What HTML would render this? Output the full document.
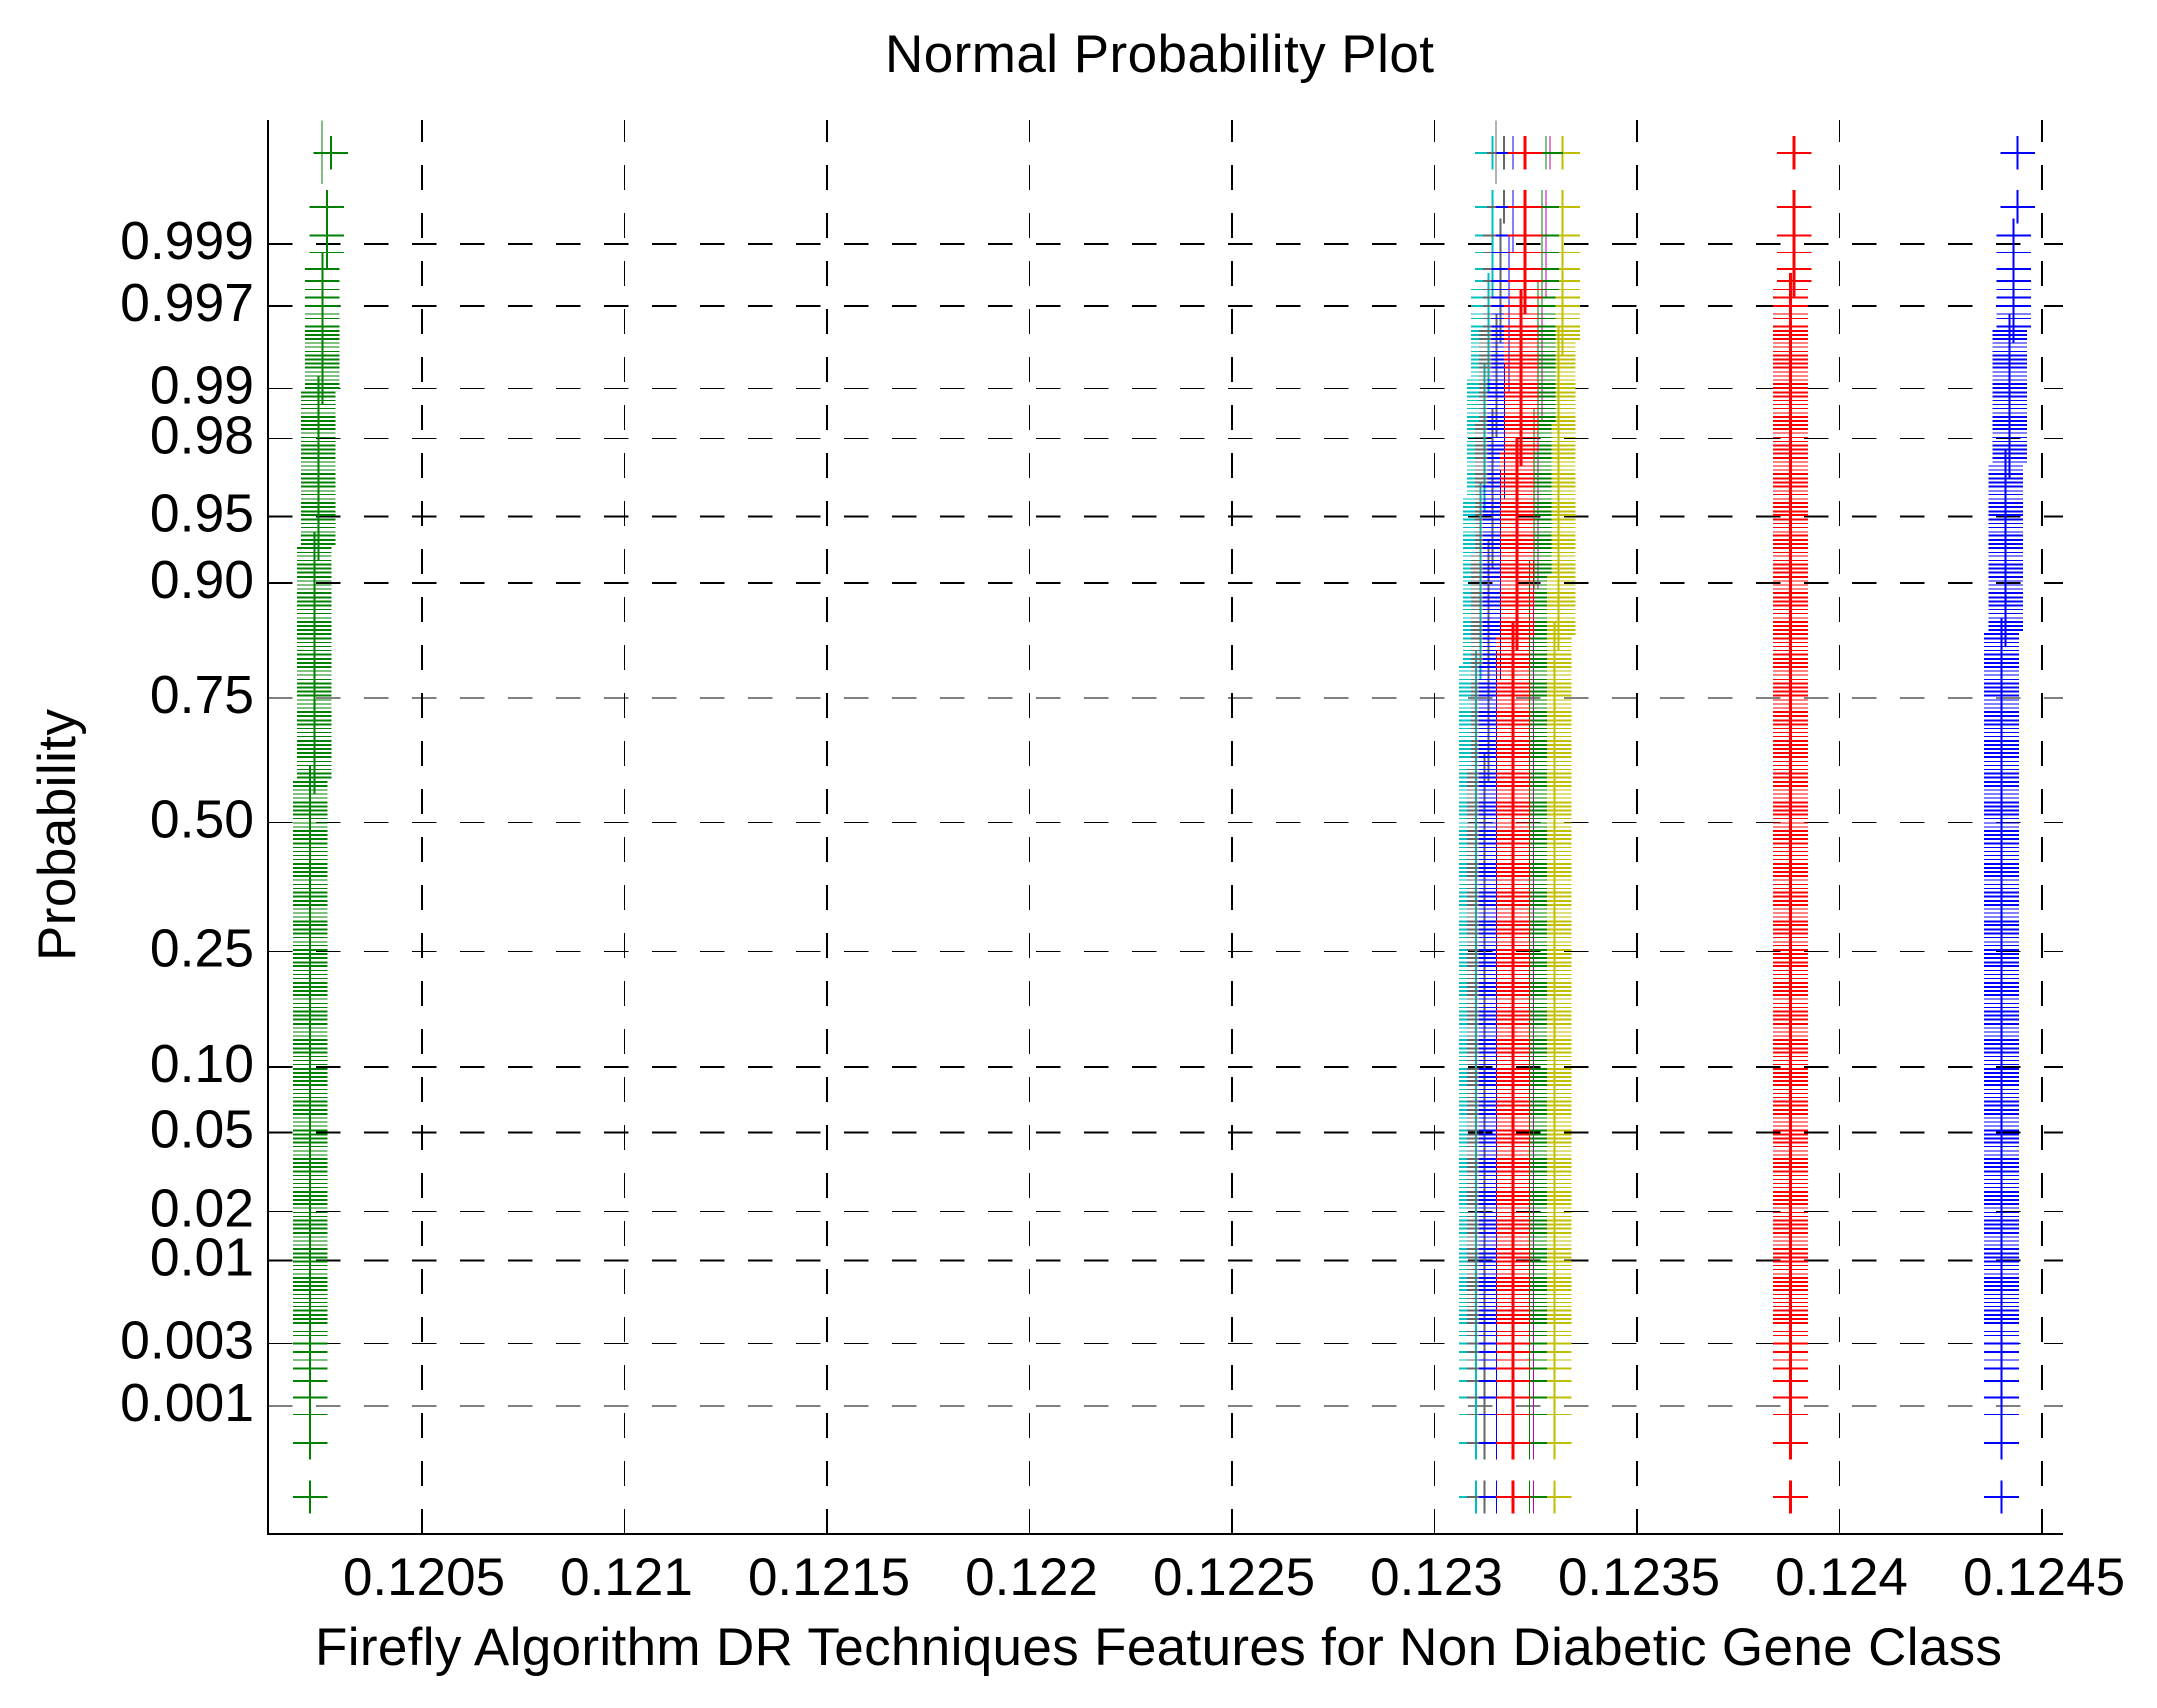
<!DOCTYPE html>
<html lang="en">
<head>
<meta charset="utf-8">
<title>Normal Probability Plot</title>
<style>
  html, body { margin: 0; padding: 0; background: #fff; }
  svg { display: block; }
  text { font-family: "Liberation Sans", Arial, sans-serif; fill: #000; }
</style>
</head>
<body>
<svg id="chart" xmlns="http://www.w3.org/2000/svg" width="2157" height="1708" viewBox="0 0 2157 1708">
  <rect x="0" y="0" width="2157" height="1708" fill="#fff"/>
  <g id="grid" shape-rendering="crispEdges"></g>
  <g id="marks" shape-rendering="crispEdges"></g>
  <g id="axes" shape-rendering="crispEdges">
    <line x1="268" y1="120" x2="268" y2="1534" stroke="#000" stroke-width="2"/>
    <line x1="267" y1="1534" x2="2063" y2="1534" stroke="#000" stroke-width="2"/>
  </g>
  <g id="x-tick-labels"></g>
  <g id="y-tick-labels"></g>
  <text x="885" y="72" font-size="53" textLength="549" lengthAdjust="spacing">Normal Probability Plot</text>
  <text x="315" y="1665" font-size="53" textLength="1687" lengthAdjust="spacing">Firefly Algorithm DR Techniques Features for Non Diabetic Gene Class</text>
  <text transform="translate(75 961) rotate(-90)" x="0" y="0" font-size="53" textLength="252" lengthAdjust="spacing">Probability</text>
</svg>
<script>
// ---- axis ticks ----
const xTickValues = [0.1205, 0.121, 0.1215, 0.122, 0.1225, 0.123, 0.1235, 0.124, 0.1245];
const xTickLabels = ['0.1205', '0.121', '0.1215', '0.122', '0.1225', '0.123', '0.1235', '0.124', '0.1245'];
const yTickLabels = ['0.999', '0.997', '0.99', '0.98', '0.95', '0.90', '0.75', '0.50', '0.25', '0.10', '0.05', '0.02', '0.01', '0.003', '0.001'];
const yTickQuantiles = [3.09, 2.76, 2.32, 2.056, 1.639, 1.287, 0.674, 0.012, -0.673, -1.287, -1.637, -2.056, -2.318, -2.76, -3.09];

// ---- normal-quantile height of each plotted row, read top to bottom ----
const upperRowQuantiles = [3.575,3.287,3.136,3.045,2.957,2.893,2.847,2.804,2.760,2.716,2.694,2.650,2.628,2.606,2.584,2.563,2.541,2.519,2.497,2.475,2.454,2.432,2.410,2.388,2.366,2.345,2.323,2.301,2.279,2.257,2.235,2.214,2.192,2.170,2.148,2.126,2.105,2.083,2.061,2.039,2.017,1.996,1.974,1.952,1.930,1.908,1.887,1.865,1.843,1.821,1.799,1.777,1.756,1.734,1.712,1.690,1.668,1.647,1.625,1.603,1.581,1.559,1.538,1.516,1.494,1.472,1.450,1.429,1.407,1.385,1.363,1.341,1.319,1.298,1.276,1.254,1.232,1.210,1.189,1.167,1.145,1.123,1.101,1.080,1.058,1.036,1.014,0.992,0.971,0.949,0.927,0.905,0.883,0.862,0.840,0.818,0.796,0.774,0.752,0.731,0.709,0.687,0.665,0.643,0.622,0.600,0.578,0.556,0.534,0.513,0.491,0.469,0.447,0.425,0.404,0.382,0.360,0.338,0.316,0.294,0.273,0.251,0.229,0.207,0.185,0.164,0.142,0.120,0.098,0.076,0.055,0.033,0.011];
const lowerRowQuantiles = [-0.011,-0.033,-0.055,-0.076,-0.098,-0.120,-0.142,-0.164,-0.185,-0.207,-0.229,-0.251,-0.273,-0.294,-0.316,-0.338,-0.360,-0.382,-0.404,-0.425,-0.447,-0.469,-0.491,-0.513,-0.534,-0.556,-0.578,-0.600,-0.622,-0.643,-0.665,-0.687,-0.709,-0.731,-0.752,-0.774,-0.796,-0.818,-0.840,-0.862,-0.883,-0.905,-0.927,-0.949,-0.971,-0.992,-1.014,-1.036,-1.058,-1.080,-1.101,-1.123,-1.145,-1.167,-1.189,-1.210,-1.232,-1.254,-1.276,-1.298,-1.319,-1.341,-1.363,-1.385,-1.407,-1.429,-1.450,-1.472,-1.494,-1.516,-1.538,-1.559,-1.581,-1.603,-1.625,-1.647,-1.668,-1.690,-1.712,-1.734,-1.756,-1.777,-1.799,-1.821,-1.843,-1.865,-1.887,-1.908,-1.930,-1.952,-1.974,-1.996,-2.017,-2.039,-2.061,-2.083,-2.105,-2.126,-2.148,-2.170,-2.192,-2.214,-2.235,-2.257,-2.279,-2.301,-2.323,-2.345,-2.366,-2.388,-2.410,-2.432,-2.454,-2.475,-2.497,-2.519,-2.541,-2.563,-2.584,-2.606,-2.628,-2.650,-2.694,-2.716,-2.760,-2.804,-2.847,-2.893,-2.957,-3.045,-3.136,-3.287,-3.575];

// ---- feature values per series, largest first; each value spans the given number of rows ----
const blueFarValues = [0.12444, 0.12443, 0.12442, 0.12441, 0.12440];
const blueFarRowCounts = [2, 10, 33, 41, 180];
const greenFarValues = [0.120275, 0.120265, 0.120254, 0.120244, 0.120234, 0.120224];
const greenFarRowCounts = [1, 3, 23, 38, 57, 144];
const redFarValues = [0.123888, 0.123879];
const redFarRowCounts = [6, 260];
const cyanValues = [0.123143, 0.123133, 0.123123, 0.123113, 0.123103];
const cyanRowCounts = [6, 18, 29, 41, 172];
const magentaValues = [0.123285, 0.123275, 0.123265, 0.123256, 0.123245];
const magentaRowCounts = [1, 5, 25, 41, 194];
const yellowValues = [0.123316, 0.123306, 0.123296];
const yellowRowCounts = [15, 72, 179];
const grayValues = [0.123172, 0.123163, 0.123153, 0.123143, 0.123133, 0.123123];
const grayRowCounts = [2, 10, 23, 32, 52, 147];
const blueValues = [0.123194, 0.123184, 0.123173, 0.123163, 0.123153];
const blueRowCounts = [3, 21, 26, 44, 172];
const greenValues = [0.123275, 0.123265, 0.123256, 0.123246, 0.123235];
const greenRowCounts = [1, 6, 28, 37, 194];
const redValues = [0.123224, 0.123214, 0.123204, 0.123194];
const redRowCounts = [8, 34, 45, 179];

// ---- dashed reference-line segments visible above the data ----
const referenceLineValues = [0.120253, 0.123152];
const referenceLineTopQuantile = 3.747;
const referenceLineEndQuantile = 3.41;

// ---- axis functions ----
function xScale(v) { return 422 + (v - 0.1205) * 405000; }
function yScale(z) { return 824.85 - 188 * z; }

const svgNS = 'http://www.w3.org/2000/svg';
const rowQuantiles = upperRowQuantiles.concat(lowerRowQuantiles);
const gridGroup = document.getElementById('grid');
const marksGroup = document.getElementById('marks');
const xLabelGroup = document.getElementById('x-tick-labels');
const yLabelGroup = document.getElementById('y-tick-labels');

const heavyHorizontal = ['0.999', '0.997', '0.95', '0.90', '0.10', '0.05', '0.01'];

// horizontal grid lines and y tick labels
yTickLabels.forEach(function (label, i) {
  const y = yScale(yTickQuantiles[i]);
  const line = document.createElementNS(svgNS, 'line');
  
  
  line.setAttribute('x1', 268);
  line.setAttribute('x2', 2063);
  line.setAttribute('y1', y);
  line.setAttribute('y2', y);
  line.setAttribute('stroke', '#000');
  line.setAttribute('stroke-width', heavyHorizontal.indexOf(label) >= 0 ? 2 : 1);
  line.setAttribute('stroke-dasharray', '24.7 23.3');
  gridGroup.appendChild(line);

  const text = document.createElementNS(svgNS, 'text');
  
  
  text.setAttribute('x', 254);
  text.setAttribute('y', y + 15);
  text.setAttribute('font-size', 53.5);
  text.setAttribute('text-anchor', 'end');
  text.textContent = label;
  yLabelGroup.appendChild(text);
});

// vertical grid lines and x tick labels
xTickValues.forEach(function (value, i) {
  const x = xScale(value);
  const line = document.createElementNS(svgNS, 'line');
  
  
  line.setAttribute('x1', x);
  line.setAttribute('x2', x);
  line.setAttribute('y1', 1534);
  line.setAttribute('y2', 120);
  line.setAttribute('stroke', '#000');
  line.setAttribute('stroke-width', i % 2 === 0 ? 2 : 1);
  line.setAttribute('stroke-dasharray', '25 23');
  gridGroup.appendChild(line);

  const text = document.createElementNS(svgNS, 'text');
  
  
  text.setAttribute('x', x + 2);
  text.setAttribute('y', 1595);
  text.setAttribute('font-size', 53);
  text.setAttribute('text-anchor', 'middle');
  text.textContent = xTickLabels[i];
  xLabelGroup.appendChild(text);
});

// expands a value/count pair into one value per row
function expandRows(values, counts) {
  const out = [];
  values.forEach(function (v, i) {
    for (let n = 0; n < counts[i]; n++) out.push(v);
  });
  return out;
}

function isThickRow(y) {
  const phase = (((y - 860) % 29.8) + 29.8) % 29.8;
  return phase < 17;
}

function drawSeries(name, color, verticalWidth, values, counts) {
  const rowValues = expandRows(values, counts);
  let thick = '';
  let thin = '';
  let vertical = '';
  rowValues.forEach(function (v, i) {
    if (i >= rowQuantiles.length) return;
    const x = xScale(v);
    const y = yScale(rowQuantiles[i]);
    const arm = 'M' + (x - 17.3).toFixed(1) + ' ' + y.toFixed(1) + 'H' + (x + 17.3).toFixed(1);
    if (isThickRow(y)) thick += arm; else thin += arm;
    vertical += 'M' + x.toFixed(1) + ' ' + (y - 16.7).toFixed(1) + 'V' + (y + 16.7).toFixed(1);
  });

  const group = document.createElementNS(svgNS, 'g');
  
  

  const thinPath = document.createElementNS(svgNS, 'path');
  
  
  thinPath.setAttribute('d', thin);
  thinPath.setAttribute('stroke', color);
  thinPath.setAttribute('stroke-width', 1);
  thinPath.setAttribute('fill', 'none');
  group.appendChild(thinPath);

  const thickPath = document.createElementNS(svgNS, 'path');
  
  
  thickPath.setAttribute('d', thick);
  thickPath.setAttribute('stroke', color);
  thickPath.setAttribute('stroke-width', 2);
  thickPath.setAttribute('fill', 'none');
  group.appendChild(thickPath);

  const verticalPath = document.createElementNS(svgNS, 'path');
  
  
  verticalPath.setAttribute('d', vertical);
  verticalPath.setAttribute('stroke', color);
  verticalPath.setAttribute('stroke-width', verticalWidth);
  verticalPath.setAttribute('fill', 'none');
  group.appendChild(verticalPath);

  marksGroup.appendChild(group);
}

drawSeries('series-blue-far', '#0000ff', 2, blueFarValues, blueFarRowCounts);
drawSeries('series-green-far', '#008000', 2, greenFarValues, greenFarRowCounts);
drawSeries('series-red-far', '#ff0000', 3, redFarValues, redFarRowCounts);
drawSeries('series-cyan', '#00bfbf', 2, cyanValues, cyanRowCounts);
drawSeries('series-magenta', '#bf00bf', 1, magentaValues, magentaRowCounts);
drawSeries('series-yellow', '#bfbf00', 2, yellowValues, yellowRowCounts);
drawSeries('series-gray', '#666666', 2, grayValues, grayRowCounts);
drawSeries('series-blue', '#0000ff', 1, blueValues, blueRowCounts);
drawSeries('series-green', '#008000', 1, greenValues, greenRowCounts);
drawSeries('series-red', '#ff0000', 3, redValues, redRowCounts);

// reference-line segments
const referenceColors = ['#008000', '#666666'];
referenceLineValues.forEach(function (value, i) {
  const line = document.createElementNS(svgNS, 'line');
  
  
  line.setAttribute('x1', xScale(value));
  line.setAttribute('x2', xScale(value));
  line.setAttribute('y1', yScale(referenceLineTopQuantile));
  line.setAttribute('y2', yScale(referenceLineEndQuantile));
  line.setAttribute('stroke', referenceColors[i]);
  line.setAttribute('stroke-width', 1);
  marksGroup.appendChild(line);
});
</script>
</body>
</html>
